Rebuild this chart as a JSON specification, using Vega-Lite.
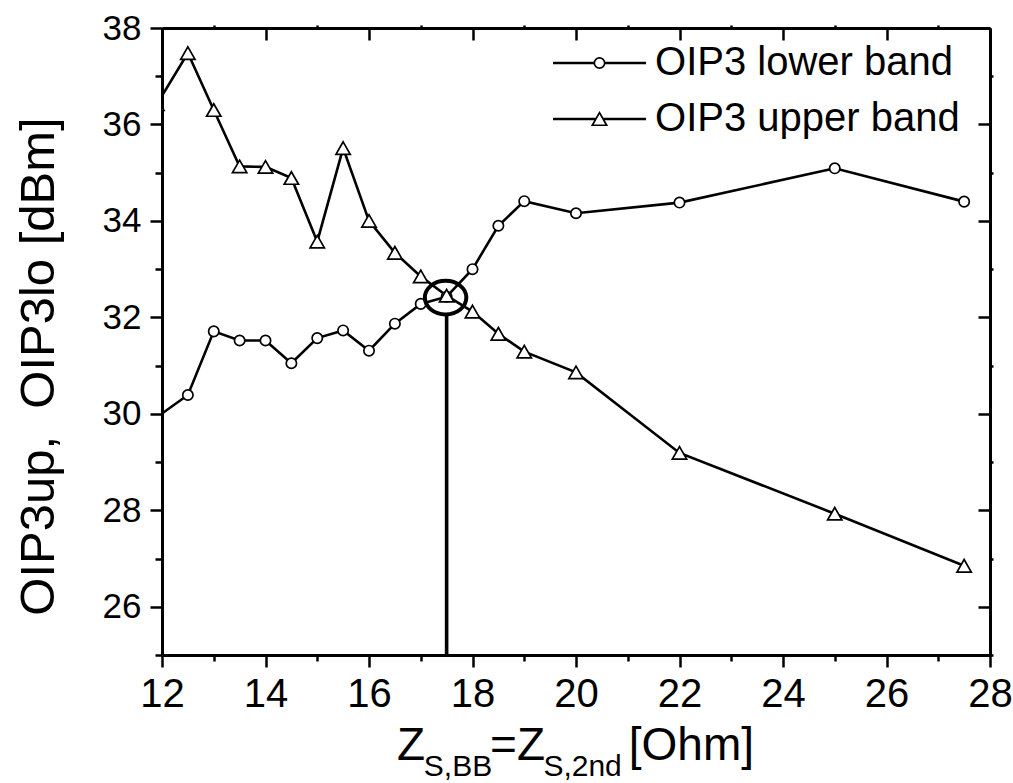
{
  "$schema": "https://vega.github.io/schema/vega-lite/v6.json",
  "autosize": {"type": "none"},
  "padding": {"left": 162, "top": 28, "right": 23, "bottom": 128},
  "width": 828,
  "height": 627,
  "background": "white",
  "config": {
    "view": {"stroke": null},
    "font": "Liberation Sans",
    "axis": {
      "grid": false,
      "domainColor": "black",
      "tickColor": "black",
      "labelColor": "black",
      "titleColor": "black",
      "domainWidth": 3,
      "tickWidth": 2.5,
      "labelFont": "Liberation Sans",
      "titleFont": "Liberation Sans",
      "titleFontWeight": "normal",
      "labelFlush": false,
      "labelOverlap": false
    }
  },
  "datasets": {
    "oip3": [
      {"x": 11.9, "value": 29.93, "series": "OIP3 lower band"},
      {"x": 12.5, "value": 30.39, "series": "OIP3 lower band"},
      {"x": 13, "value": 31.71, "series": "OIP3 lower band"},
      {"x": 13.5, "value": 31.52, "series": "OIP3 lower band"},
      {"x": 14, "value": 31.52, "series": "OIP3 lower band"},
      {"x": 14.5, "value": 31.05, "series": "OIP3 lower band"},
      {"x": 15, "value": 31.57, "series": "OIP3 lower band"},
      {"x": 15.5, "value": 31.73, "series": "OIP3 lower band"},
      {"x": 16, "value": 31.31, "series": "OIP3 lower band"},
      {"x": 16.5, "value": 31.87, "series": "OIP3 lower band"},
      {"x": 17, "value": 32.28, "series": "OIP3 lower band"},
      {"x": 17.5, "value": 32.43, "series": "OIP3 lower band"},
      {"x": 18, "value": 33.0, "series": "OIP3 lower band"},
      {"x": 18.5, "value": 33.9, "series": "OIP3 lower band"},
      {"x": 19, "value": 34.41, "series": "OIP3 lower band"},
      {"x": 20, "value": 34.16, "series": "OIP3 lower band"},
      {"x": 22, "value": 34.38, "series": "OIP3 lower band"},
      {"x": 25, "value": 35.09, "series": "OIP3 lower band"},
      {"x": 27.5, "value": 34.4, "series": "OIP3 lower band"},
      {"x": 11.9, "value": 36.42, "series": "OIP3 upper band"},
      {"x": 12.5, "value": 37.48, "series": "OIP3 upper band"},
      {"x": 13, "value": 36.3, "series": "OIP3 upper band"},
      {"x": 13.5, "value": 35.13, "series": "OIP3 upper band"},
      {"x": 14, "value": 35.12, "series": "OIP3 upper band"},
      {"x": 14.5, "value": 34.89, "series": "OIP3 upper band"},
      {"x": 15, "value": 33.57, "series": "OIP3 upper band"},
      {"x": 15.5, "value": 35.51, "series": "OIP3 upper band"},
      {"x": 16, "value": 34.0, "series": "OIP3 upper band"},
      {"x": 16.5, "value": 33.34, "series": "OIP3 upper band"},
      {"x": 17, "value": 32.85, "series": "OIP3 upper band"},
      {"x": 17.5, "value": 32.45, "series": "OIP3 upper band"},
      {"x": 18, "value": 32.12, "series": "OIP3 upper band"},
      {"x": 18.5, "value": 31.66, "series": "OIP3 upper band"},
      {"x": 19, "value": 31.29, "series": "OIP3 upper band"},
      {"x": 20, "value": 30.86, "series": "OIP3 upper band"},
      {"x": 22, "value": 29.19, "series": "OIP3 upper band"},
      {"x": 25, "value": 27.93, "series": "OIP3 upper band"},
      {"x": 27.5, "value": 26.85, "series": "OIP3 upper band"}
    ],
    "one": [{}]
  },
  "data": {"name": "one"},
  "layer": [
    {
      "data": {"name": "oip3"},
      "mark": {"type": "line", "stroke": "black", "strokeWidth": 2.6, "clip": true},
      "encoding": {
        "x": {
          "field": "x", "type": "quantitative",
          "scale": {"domain": [12, 28], "nice": false, "zero": false},
          "axis": {"orient": "bottom", "values": [12, 14, 16, 18, 20, 22, 24, 26, 28], "tickSize": 12, "labelFontSize": 40, "labelPadding": 7, "title": null, "domain": true}
        },
        "y": {
          "field": "value", "type": "quantitative",
          "scale": {"domain": [25, 38], "nice": false, "zero": false},
          "axis": {"orient": "left", "values": [26, 28, 30, 32, 34, 36, 38], "tickSize": 12, "labelFontSize": 35, "labelPadding": 9, "title": "OIP3up,\u00a0 OIP3lo [dBm]", "titleFontSize": 49, "titlePadding": 39, "titleY": 338, "domain": true}
        },
        "detail": {"field": "series", "type": "nominal"}
      }
    },
    {
      "data": {"name": "oip3"},
      "mark": {"type": "point", "filled": true, "fill": "white", "stroke": "black", "strokeWidth": 1.7, "size": 190, "opacity": 1, "clip": true},
      "encoding": {
        "x": {"field": "x", "type": "quantitative", "axis": {"orient": "bottom", "values": [13, 15, 17, 19, 21, 23, 25, 27], "tickSize": 6, "labels": false, "domain": false, "title": null}},
        "y": {"field": "value", "type": "quantitative", "axis": {"orient": "left", "values": [25, 27, 29, 31, 33, 35, 37], "tickSize": 7, "labels": false, "domain": false, "title": null}},
        "shape": {
          "field": "series", "type": "nominal",
          "scale": {"domain": ["OIP3 lower band", "OIP3 upper band"], "range": ["M0.75,0A0.75,0.75,0,1,1,-0.75,0A0.75,0.75,0,1,1,0.75,0Z", "M0,-0.91L1.04,0.91L-1.04,0.91Z"]},
          "legend": null
        }
      }
    },
    {
      "mark": {"type": "rule", "stroke": "black", "strokeWidth": 3.6},
      "encoding": {
        "x": {"datum": 17.5, "type": "quantitative", "axis": {"orient": "top", "values": [12, 14, 16, 18, 20, 22, 24, 26, 28], "tickSize": -12, "labels": false, "domain": true, "title": null}},
        "y": {"datum": 25, "type": "quantitative", "axis": {"orient": "right", "values": [26, 28, 30, 32, 34, 36, 38], "tickSize": -12, "labels": false, "domain": true, "title": null}},
        "y2": {"datum": 32.05}
      }
    },
    {
      "mark": {"type": "point", "shape": "M-1,0A1,0.81,0,1,1,1,0A1,0.81,0,1,1,-1,0Z", "size": 1722, "filled": false, "stroke": "black", "strokeWidth": 4, "opacity": 1},
      "encoding": {
        "x": {"datum": 17.48, "type": "quantitative", "axis": {"orient": "top", "values": [13, 15, 17, 19, 21, 23, 25, 27], "tickSize": 3, "labels": false, "domain": false, "title": null}},
        "y": {"datum": 32.41, "type": "quantitative", "axis": {"orient": "right", "values": [25, 27, 29, 31, 33, 35, 37], "tickSize": 3, "labels": false, "domain": false, "title": null}}
      }
    },
    {
      "mark": {"type": "rule", "stroke": "black", "strokeWidth": 2.6},
      "encoding": {"x": {"datum": 19.556, "type": "quantitative", "axis": null}, "x2": {"datum": 21.353}, "y": {"datum": 37.275, "type": "quantitative", "axis": null}}
    },
    {
      "mark": {"type": "rule", "stroke": "black", "strokeWidth": 2.6},
      "encoding": {"x": {"datum": 19.556, "type": "quantitative", "axis": null}, "x2": {"datum": 21.353}, "y": {"datum": 36.114, "type": "quantitative", "axis": null}}
    },
    {
      "mark": {"type": "point", "shape": "M0.75,0A0.75,0.75,0,1,1,-0.75,0A0.75,0.75,0,1,1,0.75,0Z", "size": 190, "filled": true, "fill": "white", "stroke": "black", "strokeWidth": 1.7, "opacity": 1},
      "encoding": {"x": {"datum": 20.454, "type": "quantitative", "axis": null}, "y": {"datum": 37.275, "type": "quantitative", "axis": null}}
    },
    {
      "mark": {"type": "point", "shape": "M0,-0.91L1.04,0.91L-1.04,0.91Z", "size": 190, "filled": true, "fill": "white", "stroke": "black", "strokeWidth": 1.7, "opacity": 1},
      "encoding": {"x": {"datum": 20.454, "type": "quantitative", "axis": null}, "y": {"datum": 36.114, "type": "quantitative", "axis": null}}
    },
    {
      "mark": {"type": "text", "text": "OIP3 lower band", "font": "Liberation Sans", "fontSize": 40, "align": "left", "baseline": "middle", "fill": "black"},
      "encoding": {"x": {"datum": 21.527, "type": "quantitative", "axis": null}, "y": {"datum": 37.275, "type": "quantitative", "axis": null}}
    },
    {
      "mark": {"type": "text", "text": "OIP3 upper band", "font": "Liberation Sans", "fontSize": 40, "align": "left", "baseline": "middle", "fill": "black"},
      "encoding": {"x": {"datum": 21.527, "type": "quantitative", "axis": null}, "y": {"datum": 36.114, "type": "quantitative", "axis": null}}
    },
    {
      "mark": {"type": "text", "text": "Z", "font": "Liberation Sans", "fontSize": 46, "align": "left", "baseline": "alphabetic", "dy": 105, "fill": "black"},
      "encoding": {"x": {"datum": 16.54, "type": "quantitative", "axis": null}, "y": {"datum": 25, "type": "quantitative", "axis": null}}
    },
    {
      "mark": {"type": "text", "text": "S,BB", "font": "Liberation Sans", "fontSize": 30, "align": "left", "baseline": "alphabetic", "dy": 121, "fill": "black"},
      "encoding": {"x": {"datum": 17.06, "type": "quantitative", "axis": null}, "y": {"datum": 25, "type": "quantitative", "axis": null}}
    },
    {
      "mark": {"type": "text", "text": "=Z", "font": "Liberation Sans", "fontSize": 46, "align": "left", "baseline": "alphabetic", "dy": 105, "fill": "black"},
      "encoding": {"x": {"datum": 18.34, "type": "quantitative", "axis": null}, "y": {"datum": 25, "type": "quantitative", "axis": null}}
    },
    {
      "mark": {"type": "text", "text": "S,2nd", "font": "Liberation Sans", "fontSize": 30, "align": "left", "baseline": "alphabetic", "dy": 121, "fill": "black"},
      "encoding": {"x": {"datum": 19.37, "type": "quantitative", "axis": null}, "y": {"datum": 25, "type": "quantitative", "axis": null}}
    },
    {
      "mark": {"type": "text", "text": "[Ohm]", "font": "Liberation Sans", "fontSize": 46, "align": "left", "baseline": "alphabetic", "dy": 105, "fill": "black"},
      "encoding": {"x": {"datum": 21.02, "type": "quantitative", "axis": null}, "y": {"datum": 25, "type": "quantitative", "axis": null}}
    }
  ],
  "resolve": {"axis": {"x": "independent", "y": "independent"}}
}
